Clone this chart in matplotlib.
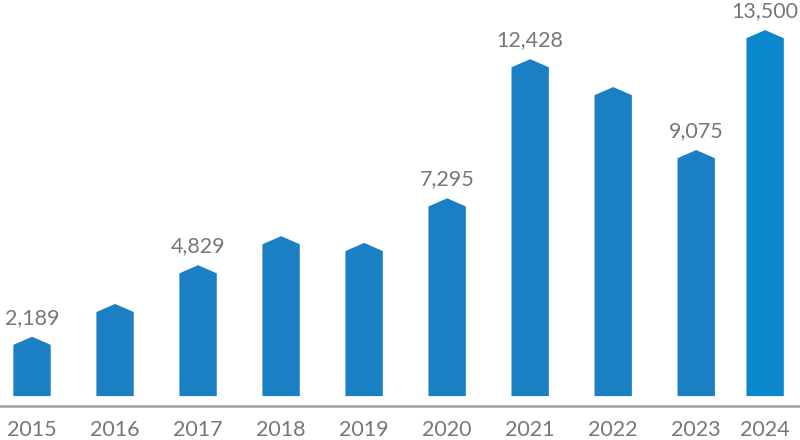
import numpy as np
import matplotlib
matplotlib.use("Agg")
import matplotlib.pyplot as plt
from matplotlib.patches import Polygon

# данные
years = ["2015", "2016", "2017", "2018", "2019", "2020", "2021", "2022", "2023", "2024"]
values = [2189, 3400, 4829, 5900, 5650, 7295, 12428, 11400, 9075, 13500]
shown = [True, False, True, False, False, True, True, False, True, True]

BAR = "#1b7fc4"
BAR_LAST = "#0b87cc"
GREY_TXT = "#777777"

plt.rcParams["font.family"] = ["Lato", "DejaVu Sans"]

fig = plt.figure(figsize=(8, 4.4), dpi=100)
ax = fig.add_axes([0, 0.077, 1, 0.923])

# позиции: последний столбец стоит ближе к предыдущему
xpos = np.arange(len(years), dtype=float)
xpos[-1] = 8.83
w = 0.45
cap = 300  # высота «крыши» в единицах данных

for i, (x, v) in enumerate(zip(xpos, values)):
    col = BAR_LAST if i == len(values) - 1 else BAR
    pts = [(x - w / 2, 0), (x + w / 2, 0), (x + w / 2, v - cap),
           (x, v), (x - w / 2, v - cap)]
    ax.add_patch(Polygon(pts, closed=True, facecolor=col, edgecolor="none"))
    if shown[i]:
        ax.annotate(f"{v:,}", (x, v), xytext=(0, 6.5), textcoords="offset points",
                    ha="center", va="bottom", fontsize=15.5, color=GREY_TXT)

ax.set_xlim(-0.386, 9.25)
ax.set_ylim(-370, 14610)
ax.set_xticks(xpos)
ax.set_xticklabels(years, fontsize=15.5, color=GREY_TXT)
ax.tick_params(axis="x", length=0, pad=10)
ax.set_yticks([])
for s in ["top", "right", "left"]:
    ax.spines[s].set_visible(False)
ax.spines["bottom"].set_color("#a0a0a0")
ax.spines["bottom"].set_linewidth(1.8)

fig.savefig("out.png", dpi=100)
